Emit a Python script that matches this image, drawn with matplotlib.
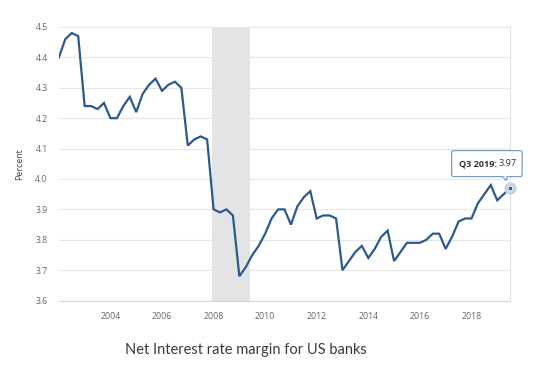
import numpy as np
import matplotlib
matplotlib.use("Agg")
import matplotlib.pyplot as plt
from matplotlib.patches import FancyBboxPatch, Polygon
from matplotlib.transforms import ScaledTranslation

# quarterly net interest margin, Q1 2002 .. Q3 2019
years = list(range(2002, 2020))
nim = [
    4.40, 4.46, 4.48, 4.47,   # 2002
    4.24, 4.24, 4.23, 4.25,   # 2003
    4.20, 4.20, 4.24, 4.27,   # 2004
    4.22, 4.28, 4.31, 4.33,   # 2005
    4.29, 4.31, 4.32, 4.30,   # 2006
    4.11, 4.13, 4.14, 4.13,   # 2007
    3.90, 3.89, 3.90, 3.88,   # 2008
    3.68, 3.71, 3.75, 3.78,   # 2009
    3.82, 3.87, 3.90, 3.90,   # 2010
    3.85, 3.91, 3.94, 3.96,   # 2011
    3.87, 3.88, 3.88, 3.87,   # 2012
    3.70, 3.73, 3.76, 3.78,   # 2013
    3.74, 3.77, 3.81, 3.83,   # 2014
    3.73, 3.76, 3.79, 3.79,   # 2015
    3.79, 3.80, 3.82, 3.82,   # 2016
    3.77, 3.81, 3.86, 3.87,   # 2017
    3.87, 3.92, 3.95, 3.98,   # 2018
    3.93, 3.95, 3.97,         # 2019
]
recession = (2007.92, 2009.42)
xticks = [2004, 2006, 2008, 2010, 2012, 2014, 2016, 2018]
yticks = [3.6, 3.7, 3.8, 3.9, 4.0, 4.1, 4.2, 4.3, 4.4, 4.5]
tooltip_label = "Q3 2019:"
title = "Net Interest rate margin for US banks"

x = years[0] + np.arange(len(nim)) / 4.0

line_col = "#2c5a8c"
grid_col = "#e6e6e6"
tick_col = "#666666"

fig = plt.figure(figsize=(5.45, 3.8), dpi=100)
ax = fig.add_axes([0.108, 0.209, 0.828, 0.72])

ax.axvspan(*recession, color="#e4e4e4", lw=0, zorder=0)
ax.plot(x, nim, color=line_col, lw=1.6, solid_joinstyle="miter", zorder=3)

ax.set_xlim(x[0], x[-1])
ax.set_ylim(3.6, 4.5)
ax.set_xticks(xticks)
ax.set_yticks(yticks)
ax.set_yticklabels([f"{v:.1f}" for v in yticks])
ax.tick_params(length=0, labelsize=6.3, labelcolor=tick_col, pad=8)
for lab in ax.get_xticklabels() + ax.get_yticklabels():
    lab.set_fontfamily("Open Sans")
ax.grid(axis="y", color=grid_col, lw=0.8, zorder=1)
ax.set_axisbelow(True)

for side in ["left", "top"]:
    ax.spines[side].set_visible(False)
ax.spines["right"].set_color("#dfe3e8")
ax.spines["right"].set_linewidth(0.8)
ax.spines["bottom"].set_color("#ccd6eb")
ax.spines["bottom"].set_linewidth(0.8)

ax.set_ylabel("Percent", fontsize=6.3, color="#444444", family="Open Sans", labelpad=8)

# tooltip at the last point
px, py = x[-1], nim[-1]
ax.plot(px, py, "o", ms=9, color="#c9d5e4", mec="none", zorder=4, clip_on=False)
ax.plot(px, py, "o", ms=3.2, color=line_col, mec="white", mew=0.5, zorder=5, clip_on=False)

tr = fig.dpi_scale_trans + ScaledTranslation(px, py, ax.transData)
box = FancyBboxPatch((-0.585, 0.115), 0.705, 0.26,
                     boxstyle="round,pad=0,rounding_size=0.02",
                     fc="white", ec="#7f9fc2", lw=0.9, transform=tr,
                     zorder=6, clip_on=False)
fig.add_artist(box)
ptr = Polygon([(-0.075, 0.118), (-0.03, 0.118), (-0.04, 0.075)], closed=True,
              fc="white", ec="none", transform=tr, zorder=7, clip_on=False)
fig.add_artist(ptr)
fig.add_artist(Polygon([(-0.075, 0.115), (-0.04, 0.075), (-0.03, 0.115)], closed=False,
                       fill=False, ec="#7f9fc2", lw=0.9, transform=tr, zorder=7,
                       clip_on=False))
fig.text(-0.135, 0.245, tooltip_label, transform=tr, ha="right", va="center",
         fontsize=6.6, fontweight="bold", color="#333333", family="Open Sans", zorder=8)
fig.text(-0.115, 0.245, f"{py:.2f}", transform=tr, ha="left", va="center",
         fontsize=6.6, color="#333333", family="Open Sans", zorder=8)

fig.text(0.452, 0.078, title, ha="center", va="center", fontsize=10.5,
         color="#3a3a3a", family="Lato")

fig.savefig("out.png", dpi=100)
